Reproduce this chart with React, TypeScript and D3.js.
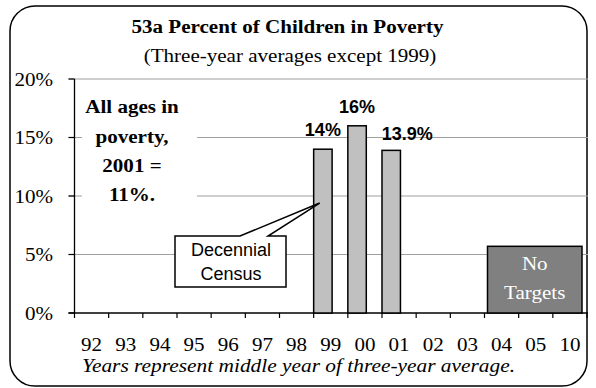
import React from 'react';
import * as d3 from 'd3';

// Category axis: middle year of each three-year average
const years = ['92', '93', '94', '95', '96', '97', '98', '99', '00', '01', '02', '03', '04', '05', '10'];
// Observed poverty rates (percent)
const barYears = ['99', '00', '01'];
const barValues = [14, 16, 13.9];
// Horizontal nudge of each value label (the 2001 label sits to the right)
const labelShift = [0, 0, 16];
// Y-axis ticks
const yTicks = [0, 5, 10, 15, 20];
// Target period shown as a placeholder block
const targetStart = '04';
const targetEnd = '10';
const targetValue = 5.7;

const W = 596;
const H = 388;
const serif = '"Liberation Serif", "Times New Roman", serif';
const sans = '"Liberation Sans", Arial, sans-serif';
const STRETCH = 1.08;

type STProps = {
  x: number;
  y: number;
  anchor?: 'start' | 'middle' | 'end';
  size?: number;
  bold?: boolean;
  italic?: boolean;
  fill?: string;
  children: React.ReactNode;
};

// Serif text set slightly wide
function ST({ x, y, anchor = 'start', size = 19.5, bold, italic, fill = '#000', children }: STProps) {
  return (
    <text
      transform={`translate(${x},${y}) scale(${STRETCH},1)`}
      textAnchor={anchor}
      fontFamily={serif}
      fontSize={size}
      fontWeight={bold ? 'bold' : 'normal'}
      fontStyle={italic ? 'italic' : 'normal'}
      fill={fill}
    >
      {children}
    </text>
  );
}

export default function App() {
  const x = d3.scaleBand<string>().domain(years).range([74.5, 587]).paddingInner(0).paddingOuter(0);
  const y = d3.scaleLinear().domain([0, 20]).range([313, 79]);
  const bw = x.bandwidth();
  const barW = bw * 0.54;

  const noteX0 = x(targetStart)! + 3;
  const noteX1 = x(targetEnd)! + bw - 5;
  const noteY = y(targetValue);

  // callout pointer towards the 1999 bar
  const calloutTip: [number, number] = [x('99')! + 6, y(9.4)];

  return (
    <svg width={W} height={H} style={{ position: 'absolute', left: 0, top: 0, background: '#fff' }}>
      {/* frame */}
      <rect x={10} y={6} width={577} height={380} rx={25} ry={25} fill="#fff" stroke="#000" strokeWidth={1.5} />

      {/* title */}
      <ST x={287.5} y={33} anchor="middle" bold>
        53a Percent of Children in Poverty
      </ST>
      <ST x={290} y={62} anchor="middle">
        (Three-year averages except 1999)
      </ST>

      {/* gridlines */}
      {yTicks.filter((t) => t > 0).map((t) => (
        <line key={t} x1={68.5} x2={588} y1={y(t)} y2={y(t)} stroke="#a0a0a0" strokeWidth={1.2} />
      ))}

      {/* y axis */}
      <line x1={74.5} x2={74.5} y1={y(20)} y2={y(0)} stroke="#000" strokeWidth={1.3} />
      {yTicks.map((t) => (
        <g key={t}>
          <line x1={68.5} x2={74.5} y1={y(t)} y2={y(t)} stroke="#000" strokeWidth={1.2} />
          <ST x={53} y={y(t) + 6.5} anchor="end">
            {t}%
          </ST>
        </g>
      ))}

      {/* x axis */}
      <line x1={68.5} x2={588} y1={y(0)} y2={y(0)} stroke="#000" strokeWidth={1.3} />
      {years.map((yr) => (
        <line key={'t' + yr} x1={x(yr)!} x2={x(yr)!} y1={y(0)} y2={y(0) + 5} stroke="#000" strokeWidth={1.2} />
      ))}
      <line x1={587} x2={587} y1={y(0)} y2={y(0) + 5} stroke="#000" strokeWidth={1.2} />
      {years.map((yr) => (
        <ST key={'l' + yr} x={x(yr)! + bw / 2} y={351} anchor="middle">
          {yr}
        </ST>
      ))}
      <ST x={82} y={372} italic size={19.8}>
        Years represent middle year of three-year average.
      </ST>

      {/* side note */}
      <rect x={82} y={92} width={115} height={120} fill="#fff" />
      <ST x={132} y={113} anchor="middle" bold>All ages in</ST>
      <ST x={132} y={143} anchor="middle" bold>poverty,</ST>
      <ST x={132} y={172} anchor="middle" bold>2001 =</ST>
      <ST x={132} y={201} anchor="middle" bold>11%.</ST>

      {/* bars */}
      {barYears.map((yr, i) => (
        <g key={'b' + yr}>
          <rect
            x={x(yr)!}
            y={y(barValues[i])}
            width={barW}
            height={y(0) - y(barValues[i])}
            fill="#c0c0c0"
            stroke="#000"
            strokeWidth={1.5}
          />
          <text
            x={x(yr)! + barW / 2 + labelShift[i]}
            y={y(barValues[i]) - (i === 2 ? 10 : 13)}
            textAnchor="middle"
            fontFamily={sans}
            fontWeight="bold"
            fontSize={18}
          >
            {barValues[i]}%
          </text>
        </g>
      ))}

      {/* no targets block */}
      <rect x={noteX0} y={noteY} width={noteX1 - noteX0} height={y(0) - noteY} fill="#808080" stroke="#000" strokeWidth={1.5} />
      <ST x={(noteX0 + noteX1) / 2} y={270} anchor="middle" fill="#fff">No</ST>
      <ST x={(noteX0 + noteX1) / 2} y={299} anchor="middle" fill="#fff">Targets</ST>

      {/* callout */}
      <path
        d={`M175,236 L240,236 L${calloutTip[0]},${calloutTip[1]} L268,236 L286,236 L286,287 L175,287 Z`}
        fill="#fff"
        stroke="#000"
        strokeWidth={1.5}
        strokeLinejoin="miter"
      />
      <g fontFamily={sans} fontSize={18} textAnchor="middle">
        <text x={231} y={256}>Decennial</text>
        <text x={231} y={280}>Census</text>
      </g>
    </svg>
  );
}
